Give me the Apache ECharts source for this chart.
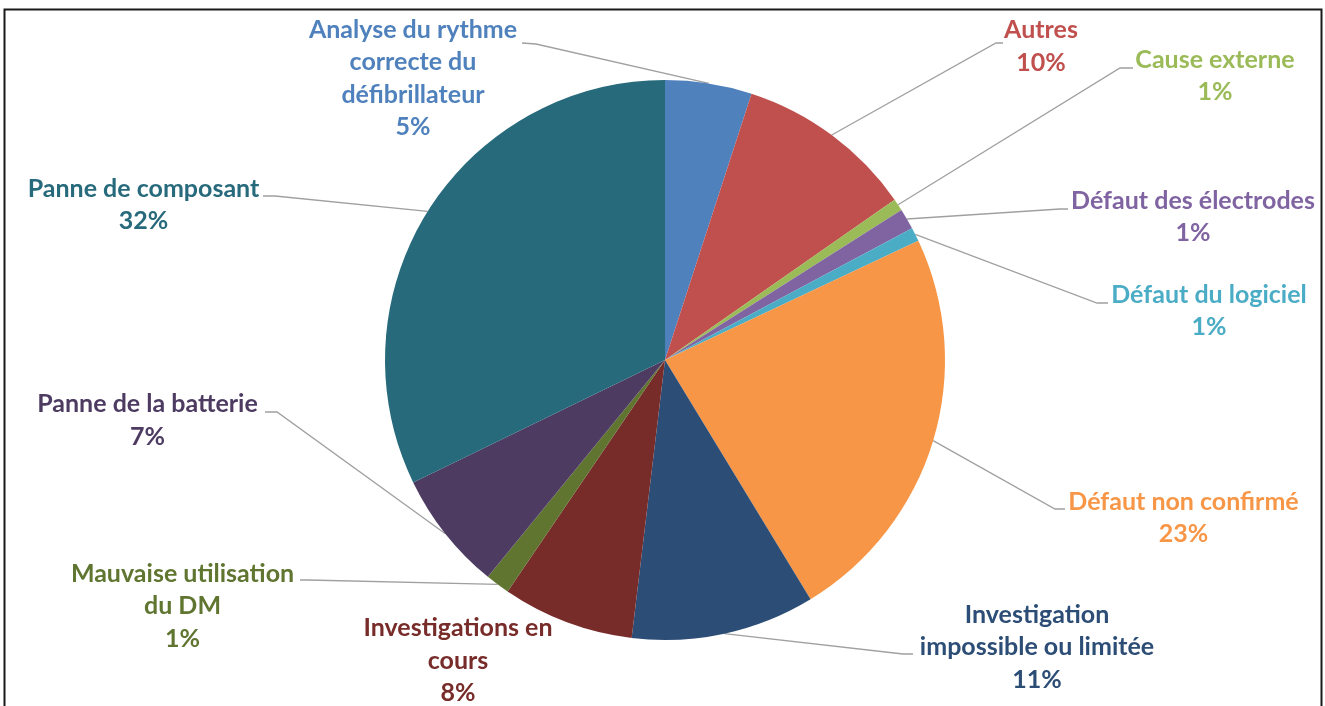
<!DOCTYPE html>
<html>
<head>
<meta charset="utf-8">
<script src="https://cdn.jsdelivr.net/npm/echarts@6/dist/echarts.min.js"></script>
<style>
  html, body { margin: 0; padding: 0; background: #fff; }
  #chart { width: 1325px; height: 706px; }
</style>
</head>
<body>
<div id="chart"></div>
<script>
// ---- data ----
const categories = [
  'Analyse du rythme\ncorrecte du\ndéfibrillateur',
  'Autres',
  'Cause externe',
  'Défaut des électrodes',
  'Défaut du logiciel',
  'Défaut non confirmé',
  'Investigation\nimpossible ou limitée',
  'Investigations en\ncours',
  'Mauvaise utilisation\ndu DM',
  'Panne de la batterie',
  'Panne de composant'
];
const values = [5.0, 10.3, 0.7, 1.2, 0.8, 23.3, 10.6, 7.6, 1.4, 6.9, 32.2];

// ---- styles / layout ----
const colors = ['#4F81BD', '#C0504D', '#9BBB59', '#8064A2', '#4BACC6', '#F79646',
                '#2C4D75', '#772C2A', '#5F7530', '#4D3B62', '#276A7C'];
// label text centre [x, y], leader attach point [x, y], bend point [x, y]
const labelCenter = [[413, 78.5], [1041, 46.5], [1215, 76], [1193, 217], [1209, 311], [1183.5, 518],
                     [1037, 647], [458, 660.5], [182.5, 606], [147.5, 420.5], [143.5, 205]];
const labelAttach = [[522, 43], [1003, 43], [1133, 68], [1068, 209], [1108, 303], [1065, 509],
                     [913, 654], null, [300, 580], [265, 412], [263, 196]];
const labelBend = [[536, 44], [996, 43], [1120, 68], [1060, 209], [1097, 303], [1055, 509],
                   [903, 654], null, [308, 580], [277, 412], [275, 196]];

const chart = echarts.init(document.getElementById('chart'));
const data = categories.map((name, i) => ({
  name: name,
  value: values[i],
  itemStyle: { color: colors[i] },
  label: { color: colors[i] },
  labelLine: { show: labelAttach[i] !== null }
}));

chart.setOption({
  animation: false,
  backgroundColor: '#ffffff',
  graphic: [{
    type: 'rect',
    shape: { x: 4.5, y: 9.5, width: 1317, height: 720 },
    style: { fill: 'none', stroke: '#1a1a1a', lineWidth: 2 },
    silent: true
  }],
  series: [{
    type: 'pie',
    center: [665, 360],
    radius: 280,
    startAngle: 90,
    clockwise: true,
    avoidLabelOverlap: false,
    data: data,
    itemStyle: { borderWidth: 0 },
    label: {
      show: true,
      position: 'outside',
      fontFamily: 'Lato',
      fontWeight: 'bold',
      fontSize: 25,
      lineHeight: 32.5,
      align: 'center',
      formatter: p => p.name + '\n' + Math.round(p.percent) + '%'
    },
    labelLine: {
      show: true,
      length: 10,
      length2: 10,
      lineStyle: { color: '#A0A0A0', width: 1.3 }
    },
    labelLayout: function (params) {
      const i = params.dataIndex;
      const res = {
        x: labelCenter[i][0],
        y: labelCenter[i][1],
        align: 'center',
        verticalAlign: 'middle'
      };
      if (labelAttach[i] && params.labelLinePoints) {
        res.labelLinePoints = [params.labelLinePoints[0], labelBend[i], labelAttach[i]];
      }
      return res;
    }
  }]
});
</script>
</body>
</html>
